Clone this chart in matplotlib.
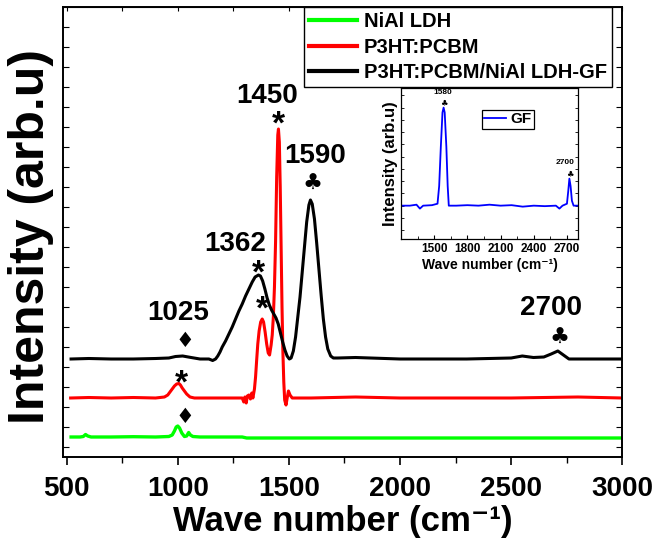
import matplotlib
matplotlib.use("Agg")
import matplotlib.pyplot as plt

plt.rcParams['font.family'] = ['Liberation Sans', 'DejaVu Sans']
plt.rcParams['font.weight'] = 'bold'

# ---- main spectra (x: wave number, y: arbitrary stacked intensity) ----
nial_x = [520, 560, 575, 585, 595, 610, 700, 800, 900, 960, 975, 985, 993, 1000, 1008,
          1018, 1030, 1040, 1049, 1057, 1068, 1100, 1200, 1290, 1300, 1310, 1500,
          2000, 2500, 3000]
nial_y = [20, 20, 20.5, 22.5, 21, 20, 20, 20.3, 20, 20.5, 22, 26, 30, 31, 29,
          24, 20.5, 21, 24.5, 22, 20.5, 20, 20, 20, 19.5, 19, 19,
          19, 19, 19]

p3_x = [518, 600, 700, 800, 900, 940, 955, 965, 975, 985, 995, 1005, 1012, 1020, 1030,
        1040, 1055, 1075, 1100, 1200, 1290, 1297, 1302, 1308, 1313, 1320, 1327, 1333,
        1338, 1345, 1350, 1355, 1360, 1366, 1373, 1380, 1386, 1393, 1400, 1407, 1413,
        1420, 1425, 1430, 1435, 1440, 1445, 1450, 1453, 1457, 1461, 1465, 1469, 1473,
        1477, 1481, 1487, 1493, 1498, 1505, 1515, 1600, 1800, 2000, 2200, 2500, 2800,
        3000]
p3_y = [59, 59.5, 59, 59.5, 59, 60, 62, 65, 68, 71, 73, 73.5, 72, 69, 66,
        63, 60, 59, 59, 59, 59, 55, 60, 54, 61, 62, 58, 64,
        59, 68, 80, 97, 113, 126, 135, 138, 135, 125, 113, 104, 102,
        112, 122, 140, 170, 215, 280, 322, 328, 315, 270, 210, 150, 105,
        75, 57, 52, 60, 66, 62, 59, 59, 60, 59, 59, 59, 60,
        59]

comp_x = [520, 600, 700, 800, 900, 960, 990, 1022, 1060, 1100, 1140, 1157, 1170,
          1180, 1190, 1200, 1215, 1230, 1245, 1260, 1275, 1290, 1305, 1320, 1335,
          1348, 1363, 1372, 1382, 1392, 1402, 1412, 1422, 1432, 1442, 1452, 1462,
          1472, 1482, 1492, 1502, 1510, 1520, 1530, 1540, 1550, 1560, 1570, 1580,
          1590, 1597, 1605, 1615, 1625, 1635, 1645, 1655, 1665, 1675, 1688, 1700,
          1720, 1800, 2000, 2300, 2500, 2550, 2600, 2647, 2680, 2710, 2735, 2760,
          2850, 3000]
comp_y = [98, 98.5, 98, 98, 98.5, 99, 100.5, 101, 99.5, 98, 98, 96.5, 98,
          101, 105, 110, 116, 123, 130, 138, 146, 153, 161, 168, 175,
          180, 182, 181, 176, 168, 159, 152, 147, 143, 139, 133, 124,
          115, 107, 101, 98, 99, 106, 120, 140, 160, 185, 210, 235,
          252, 257, 253, 238, 214, 188, 162, 138, 120, 108, 101, 99,
          99, 99.5, 98, 98, 99, 101, 99.5, 100, 103, 106, 102, 98,
          98, 98]

# ---- inset: GF ----
gf_x = [1200, 1280, 1340, 1371, 1400, 1480, 1530, 1545, 1560, 1575, 1585, 1595, 1610,
        1622, 1632, 1700, 1800, 1900, 2000, 2100, 2200, 2300, 2400, 2500, 2600, 2632,
        2660, 2700, 2712, 2722, 2733, 2745, 2760, 2800]
gf_y = [0, 0.0, 0.01, -0.03, 0, 0.005, 0.02, 0.2, 0.6, 0.95, 1.0, 0.95, 0.6,
        0.2, 0.0, 0.0, 0.005, 0.0, 0.01, 0.0, 0.005, -0.01, 0.0, -0.005, 0.0, -0.03,
        0.0, 0.02, 0.15, 0.276, 0.2, 0.05, 0.0, 0.0]

labels = ['NiAl LDH', 'P3HT:PCBM', 'P3HT:PCBM/NiAl LDH-GF']
colors = ['#00FF00', '#FF0000', '#000000']
xlabel_text = 'Wave number (cm\u207b\u00b9)'
ylabel_text = 'Intensity (arb.u)'

fig = plt.figure(figsize=(6.62, 5.50), dpi=100)
ax = fig.add_axes([63.3/662, 93/550, (622.3-63.3)/662, 450/550])

ax.plot(nial_x, nial_y, color=colors[0], lw=2.4, label=labels[0])
ax.plot(p3_x, p3_y, color=colors[1], lw=2.2, label=labels[1])
ax.plot(comp_x, comp_y, color=colors[2], lw=2.2, label=labels[2])

ax.set_xlim(485, 3000)
ax.set_ylim(0, 450)
ax.set_xticks([500, 1000, 1500, 2000, 2500, 3000])
ax.set_xticks([750, 1250, 1750, 2250, 2750], minor=True)
ax.set_yticks(list(range(10, 450, 40)))
ax.set_yticks(list(range(30, 450, 40)), minor=True)
ax.tick_params(axis='x', which='major', direction='out', length=6, width=1.2,
               labelsize=20, pad=8, top=False)
ax.tick_params(axis='x', which='minor', direction='out', length=4, width=1.0, top=False)
ax.tick_params(axis='y', which='both', direction='in', length=4, width=0.8,
               left=True, right=True, labelleft=False)
for lab in ax.get_xticklabels():
    lab.set_fontweight('bold')
for s in ax.spines.values():
    s.set_linewidth(1.4)
axt = ax.secondary_xaxis('top')
axt.set_xticks([500, 1000, 1500, 2000, 2500, 3000])
axt.set_xticks([750, 1250, 1750, 2250, 2750], minor=True)
axt.tick_params(axis='x', which='both', direction='in', length=3, width=0.8, labeltop=False)

fig.text(343/662, 1 - 521/550, xlabel_text, fontsize=25, fontweight='bold',
         ha='center', va='center')
fig.text(31/662, 1 - 236/550, ylabel_text, fontsize=36, fontweight='bold',
         ha='center', va='center', rotation=90)

leg = ax.legend(loc='upper right', bbox_to_anchor=(612/662, 1 - 7/550),
                bbox_transform=fig.transFigure, prop={'weight': 'bold', 'size': 14.5},
                frameon=True, fancybox=False, edgecolor='black', framealpha=1,
                borderaxespad=0, handlelength=2.4, handletextpad=0.35, labelspacing=0.33,
                borderpad=0.25)
leg.get_frame().set_linewidth(1.0)
for line in leg.get_lines():
    line.set_linewidth(3)

big = dict(fontsize=20, fontweight='bold', ha='center', va='center')
ax.text(1000, 144, '1025', **big)
ax.text(1260, 213, '1362', **big)
ax.text(1404, 361, '1450', **big)
ax.text(1620, 301, '1590', **big)
ax.text(2678, 149, '2700', **big)

sym = dict(ha='center', va='center', family=['DejaVu Sans'], fontweight='bold')
ax.text(1030, 116, '\u2666', fontsize=15, **sym)
ax.text(1030, 40, '\u2666', fontsize=15, **sym)
ax.text(1605, 273, '\u2663', fontsize=16, **sym)
ax.text(2718, 119, '\u2663', fontsize=16, **sym)
ast = dict(ha='center', va='center', fontsize=24, fontweight='bold', family=['Liberation Sans'])
ax.text(1454, 332, '*', **ast)
ax.text(1365, 183, '*', **ast)
ax.text(1383, 147, '*', **ast)
ax.text(1017, 73, '*', **ast)

# ---- inset ----
ins = fig.add_axes([401/662, 1 - 239/550, (578-401)/662, (239-88)/550])
ins.plot(gf_x, gf_y, color='#0000FF', lw=1.3, label='GF')
ins.set_xlim(1200, 2800)
ins.set_ylim(-0.34, 1.2)
ins.set_xticks([1500, 1800, 2100, 2400, 2700])
ins.set_xticks([1350, 1650, 1950, 2250, 2550], minor=True)
ins.set_yticks([-0.25, 0.0, 0.25, 0.5, 0.75, 1.0])
ins.set_yticks([-0.125, 0.125, 0.375, 0.625, 0.875, 1.125], minor=True)
ins.tick_params(axis='x', which='major', direction='in', length=3, width=0.8, labelsize=8.5, pad=3)
ins.tick_params(axis='x', which='minor', direction='in', length=2, width=0.6)
ins.tick_params(axis='y', which='both', direction='in', length=2.5, width=0.6,
                left=True, right=True, labelleft=False)
for lab in ins.get_xticklabels():
    lab.set_fontweight('bold')
for s in ins.spines.values():
    s.set_linewidth(0.9)
ins.set_xlabel(xlabel_text, fontsize=10, fontweight='bold', labelpad=2)
ins.set_ylabel(ylabel_text, fontsize=12, fontweight='bold', labelpad=2)
ileg = ins.legend(loc='upper left', bbox_to_anchor=(482/662, 1 - 110/550),
                  bbox_transform=fig.transFigure, prop={'weight': 'bold', 'size': 11},
                  frameon=True, fancybox=False, edgecolor='black', framealpha=1,
                  borderaxespad=0, handlelength=1.4, handletextpad=0.3, borderpad=0.15)
ileg.get_frame().set_linewidth(0.9)
sm = dict(fontsize=6, fontweight='bold', ha='center', va='center')
ins.text(1578, 1.15, '1580', **sm)
ins.text(2680, 0.44, '2700', **sm)
ins.text(1585, 1.045, '\u2663', fontsize=6, ha='center', va='center', family=['DejaVu Sans'])
ins.text(2722, 0.33, '\u2663', fontsize=6, ha='center', va='center', family=['DejaVu Sans'])

fig.savefig('out.png', dpi=100)
